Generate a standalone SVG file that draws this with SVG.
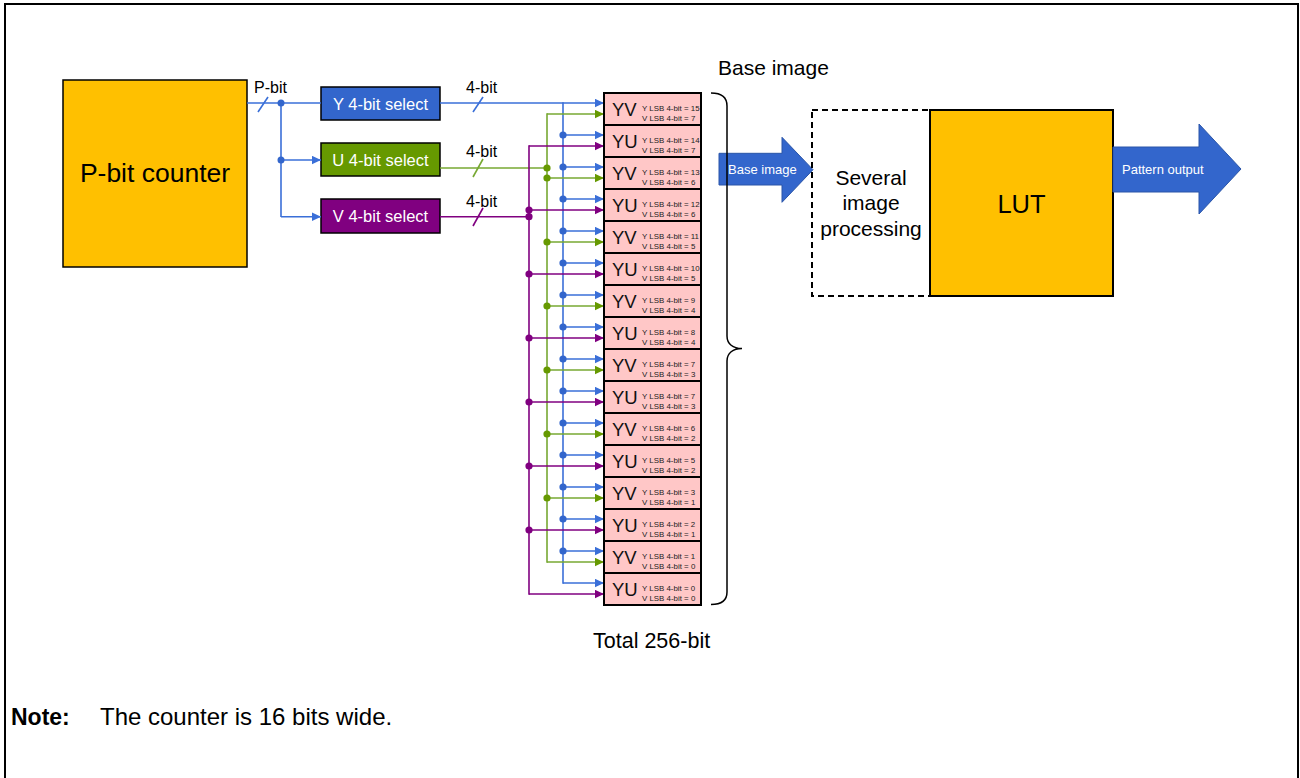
<svg xmlns="http://www.w3.org/2000/svg" width="1300" height="778" viewBox="0 0 1300 778">
<style>
text{font-family:"Liberation Sans",Arial,sans-serif;}
.blk{fill:#000;}
.wht{fill:#fff;}
.box{stroke:#000;stroke-width:1.5;}
.cell{fill:#ffc7c7;stroke:#000;stroke-width:2;}
.big{font-size:18.5px;fill:#111;}
.sm{font-size:7.9px;fill:#222;}
.lb{stroke:#3a6fd8;stroke-width:1.6;fill:none;}
.lg{stroke:#77a832;stroke-width:1.6;fill:none;}
.lp{stroke:#800080;stroke-width:1.6;fill:none;}
.db{fill:#3366cc;}
.dg{fill:#669900;}
.dp{fill:#800080;}
.ab{marker-end:url(#aB);}
.ag{marker-end:url(#aG);}
.ap{marker-end:url(#aP);}
</style>
<defs>
<marker id="aB" viewBox="0 0 9 9" refX="9" refY="4.5" markerWidth="9" markerHeight="9" markerUnits="userSpaceOnUse" orient="auto"><path d="M0,0.3 L9,4.5 L0,8.7z" fill="#3a6fd8"/></marker>
<marker id="aG" viewBox="0 0 9 9" refX="9" refY="4.5" markerWidth="9" markerHeight="9" markerUnits="userSpaceOnUse" orient="auto"><path d="M0,0.3 L9,4.5 L0,8.7z" fill="#669900"/></marker>
<marker id="aP" viewBox="0 0 9 9" refX="9" refY="4.5" markerWidth="9" markerHeight="9" markerUnits="userSpaceOnUse" orient="auto"><path d="M0,0.3 L9,4.5 L0,8.7z" fill="#800080"/></marker>
</defs>
<rect x="0" y="0" width="1300" height="778" fill="#fff"/>
<rect x="5" y="4" width="1293" height="800" fill="none" stroke="#000" stroke-width="2"/>

<g id="counter">
<rect x="63" y="80" width="184" height="187" fill="#ffc000" class="box"/>
<text x="155" y="182" font-size="26.5" text-anchor="middle" class="blk">P-bit counter</text>
</g>
<g id="ysel">
<rect x="321" y="87" width="119" height="33" fill="#3366cc" class="box"/>
<text x="380.5" y="109.5" font-size="16.5" text-anchor="middle" class="wht">Y 4-bit select</text>
</g>
<g id="usel">
<rect x="321" y="143" width="119" height="33" fill="#669900" class="box"/>
<text x="380.5" y="165.5" font-size="16.5" text-anchor="middle" class="wht">U 4-bit select</text>
</g>
<g id="vsel">
<rect x="321" y="199" width="119" height="34" fill="#800080" class="box"/>
<text x="380.5" y="222" font-size="16.5" text-anchor="middle" class="wht">V 4-bit select</text>
</g>

<g id="connectors">
<path class="lb" d="M247,103 H321"/>
<path class="lb" d="M281,103 V217"/>
<path class="lb ab" d="M281,160 H321"/>
<path class="lb ab" d="M281,216.7 H321"/>
<circle cx="281" cy="103" r="3.5" class="db"/>
<circle cx="281" cy="160" r="3.5" class="db"/>
<path class="lb" d="M258,112 L268,97"/>
<text x="254" y="92.7" font-size="16" class="blk">P-bit</text>

<path class="lb ab" d="M440,103 H604"/>
<path class="lb" d="M473,112 L483,97"/>
<text x="466" y="92.7" font-size="16" class="blk">4-bit</text>
<path class="lg" d="M440,168 H547"/>
<path class="lg" d="M473,177 L483,159"/>
<text x="466" y="157.3" font-size="16" class="blk">4-bit</text>
<path class="lp" d="M440,216.7 H529"/>
<path class="lp" d="M473,226 L483,208"/>
<text x="466" y="206.7" font-size="16" class="blk">4-bit</text>

<path class="lb" d="M563,103 V583" stroke-linecap="square"/>
<path class="lb ab" d="M563,135 H604"/><path class="lb ab" d="M563,167 H604"/><path class="lb ab" d="M563,199 H604"/><path class="lb ab" d="M563,231 H604"/>
<path class="lb ab" d="M563,263 H604"/><path class="lb ab" d="M563,295 H604"/><path class="lb ab" d="M563,327 H604"/><path class="lb ab" d="M563,359 H604"/>
<path class="lb ab" d="M563,391 H604"/><path class="lb ab" d="M563,423 H604"/><path class="lb ab" d="M563,455 H604"/><path class="lb ab" d="M563,487 H604"/>
<path class="lb ab" d="M563,519 H604"/><path class="lb ab" d="M563,551 H604"/><path class="lb ab" d="M563,583 H604"/>
<g class="db">
<circle cx="563" cy="135" r="3.6"/><circle cx="563" cy="167" r="3.6"/><circle cx="563" cy="199" r="3.6"/><circle cx="563" cy="231" r="3.6"/>
<circle cx="563" cy="263" r="3.6"/><circle cx="563" cy="295" r="3.6"/><circle cx="563" cy="327" r="3.6"/><circle cx="563" cy="359" r="3.6"/>
<circle cx="563" cy="391" r="3.6"/><circle cx="563" cy="423" r="3.6"/><circle cx="563" cy="455" r="3.6"/><circle cx="563" cy="487" r="3.6"/>
<circle cx="563" cy="519" r="3.6"/><circle cx="563" cy="551" r="3.6"/>
</g>

<path class="lg" d="M547,114 V562" stroke-linecap="square"/>
<path class="lg ag" d="M547,114 H604"/><path class="lg ag" d="M547,178 H604"/><path class="lg ag" d="M547,242 H604"/><path class="lg ag" d="M547,306 H604"/>
<path class="lg ag" d="M547,370 H604"/><path class="lg ag" d="M547,434 H604"/><path class="lg ag" d="M547,498 H604"/><path class="lg ag" d="M547,562 H604"/>
<g class="dg">
<circle cx="547" cy="168" r="3.6"/>
<circle cx="547" cy="178" r="3.6"/><circle cx="547" cy="242" r="3.6"/><circle cx="547" cy="306" r="3.6"/>
<circle cx="547" cy="370" r="3.6"/><circle cx="547" cy="434" r="3.6"/><circle cx="547" cy="498" r="3.6"/>
</g>

<path class="lp" d="M529,146 V594" stroke-linecap="square"/>
<path class="lp ap" d="M529,146 H604"/><path class="lp ap" d="M529,210 H604"/><path class="lp ap" d="M529,274 H604"/><path class="lp ap" d="M529,338 H604"/>
<path class="lp ap" d="M529,402 H604"/><path class="lp ap" d="M529,466 H604"/><path class="lp ap" d="M529,530 H604"/><path class="lp ap" d="M529,594 H604"/>
<g class="dp">
<circle cx="529" cy="216.7" r="3.6"/>
<circle cx="529" cy="210" r="3.6"/><circle cx="529" cy="274" r="3.6"/><circle cx="529" cy="338" r="3.6"/>
<circle cx="529" cy="402" r="3.6"/><circle cx="529" cy="466" r="3.6"/><circle cx="529" cy="530" r="3.6"/>
</g>
</g>

<g id="cells">
<g id="c0"><rect x="604" y="93" width="97" height="32" class="cell"/><text x="612" y="116" class="big">YV</text><text x="642" y="111" class="sm">Y LSB 4-bit = 15</text><text x="642" y="121" class="sm">V LSB 4-bit = 7</text></g>
<g id="c1"><rect x="604" y="125" width="97" height="32" class="cell"/><text x="612" y="148" class="big">YU</text><text x="642" y="143" class="sm">Y LSB 4-bit = 14</text><text x="642" y="153" class="sm">V LSB 4-bit = 7</text></g>
<g id="c2"><rect x="604" y="157" width="97" height="32" class="cell"/><text x="612" y="180" class="big">YV</text><text x="642" y="175" class="sm">Y LSB 4-bit = 13</text><text x="642" y="185" class="sm">V LSB 4-bit = 6</text></g>
<g id="c3"><rect x="604" y="189" width="97" height="32" class="cell"/><text x="612" y="212" class="big">YU</text><text x="642" y="207" class="sm">Y LSB 4-bit = 12</text><text x="642" y="217" class="sm">V LSB 4-bit = 6</text></g>
<g id="c4"><rect x="604" y="221" width="97" height="32" class="cell"/><text x="612" y="244" class="big">YV</text><text x="642" y="239" class="sm">Y LSB 4-bit = 11</text><text x="642" y="249" class="sm">V LSB 4-bit = 5</text></g>
<g id="c5"><rect x="604" y="253" width="97" height="32" class="cell"/><text x="612" y="276" class="big">YU</text><text x="642" y="271" class="sm">Y LSB 4-bit = 10</text><text x="642" y="281" class="sm">V LSB 4-bit = 5</text></g>
<g id="c6"><rect x="604" y="285" width="97" height="32" class="cell"/><text x="612" y="308" class="big">YV</text><text x="642" y="303" class="sm">Y LSB 4-bit = 9</text><text x="642" y="313" class="sm">V LSB 4-bit = 4</text></g>
<g id="c7"><rect x="604" y="317" width="97" height="32" class="cell"/><text x="612" y="340" class="big">YU</text><text x="642" y="335" class="sm">Y LSB 4-bit = 8</text><text x="642" y="345" class="sm">V LSB 4-bit = 4</text></g>
<g id="c8"><rect x="604" y="349" width="97" height="32" class="cell"/><text x="612" y="372" class="big">YV</text><text x="642" y="367" class="sm">Y LSB 4-bit = 7</text><text x="642" y="377" class="sm">V LSB 4-bit = 3</text></g>
<g id="c9"><rect x="604" y="381" width="97" height="32" class="cell"/><text x="612" y="404" class="big">YU</text><text x="642" y="399" class="sm">Y LSB 4-bit = 7</text><text x="642" y="409" class="sm">V LSB 4-bit = 3</text></g>
<g id="c10"><rect x="604" y="413" width="97" height="32" class="cell"/><text x="612" y="436" class="big">YV</text><text x="642" y="431" class="sm">Y LSB 4-bit = 6</text><text x="642" y="441" class="sm">V LSB 4-bit = 2</text></g>
<g id="c11"><rect x="604" y="445" width="97" height="32" class="cell"/><text x="612" y="468" class="big">YU</text><text x="642" y="463" class="sm">Y LSB 4-bit = 5</text><text x="642" y="473" class="sm">V LSB 4-bit = 2</text></g>
<g id="c12"><rect x="604" y="477" width="97" height="32" class="cell"/><text x="612" y="500" class="big">YV</text><text x="642" y="495" class="sm">Y LSB 4-bit = 3</text><text x="642" y="505" class="sm">V LSB 4-bit = 1</text></g>
<g id="c13"><rect x="604" y="509" width="97" height="32" class="cell"/><text x="612" y="532" class="big">YU</text><text x="642" y="527" class="sm">Y LSB 4-bit = 2</text><text x="642" y="537" class="sm">V LSB 4-bit = 1</text></g>
<g id="c14"><rect x="604" y="541" width="97" height="32" class="cell"/><text x="612" y="564" class="big">YV</text><text x="642" y="559" class="sm">Y LSB 4-bit = 1</text><text x="642" y="569" class="sm">V LSB 4-bit = 0</text></g>
<g id="c15"><rect x="604" y="573" width="97" height="32" class="cell"/><text x="612" y="596" class="big">YU</text><text x="642" y="591" class="sm">Y LSB 4-bit = 0</text><text x="642" y="601" class="sm">V LSB 4-bit = 0</text></g>
</g>

<g id="base-arrow">
<polygon points="719,153.3 782,153.3 782,137.3 813,169.7 782,202.3 782,185 719,185" fill="#3366cc" stroke="#2a55a8" stroke-width="1"/>
<text x="728" y="173.5" font-size="13" class="wht">Base image</text>
</g>
<g id="brace">
<path d="M711,93 C722,93 727,97 727,106 L727,336 C727,344 733,348.5 742,348.5 C733,348.5 727,353 727,361 L727,592 C727,600 722,604.5 711,604.5" fill="none" stroke="#000" stroke-width="1.5"/>
</g>
<text x="718" y="75" font-size="21" class="blk">Base image</text>
<text x="593" y="647.5" font-size="21.5" class="blk">Total 256-bit</text>

<g id="processing">
<rect x="812" y="110" width="118" height="186" fill="none" stroke="#000" stroke-width="2" stroke-dasharray="6,4"/>
<text x="871" y="184.5" font-size="21" text-anchor="middle" class="blk">Several</text>
<text x="871" y="210" font-size="21" text-anchor="middle" class="blk">image</text>
<text x="871" y="235.5" font-size="21" text-anchor="middle" class="blk">processing</text>
</g>
<g id="lut">
<rect x="930" y="110" width="183" height="186" fill="#ffc000" stroke="#000" stroke-width="2"/>
<text x="1021.5" y="213" font-size="25.5" text-anchor="middle" class="blk">LUT</text>
</g>
<g id="out-arrow">
<polygon points="1113,147 1199,147 1199,124 1241,169 1199,214 1199,192 1113,192" fill="#3366cc" stroke="#2a55a8" stroke-width="1"/>
<text x="1122" y="173.5" font-size="13" class="wht">Pattern output</text>
</g>

<g id="note">
<text x="11" y="725" font-size="23" font-weight="bold" class="blk">Note:</text>
<text x="100" y="725" font-size="24" class="blk">The counter is 16 bits wide.</text>
</g>
</svg>
